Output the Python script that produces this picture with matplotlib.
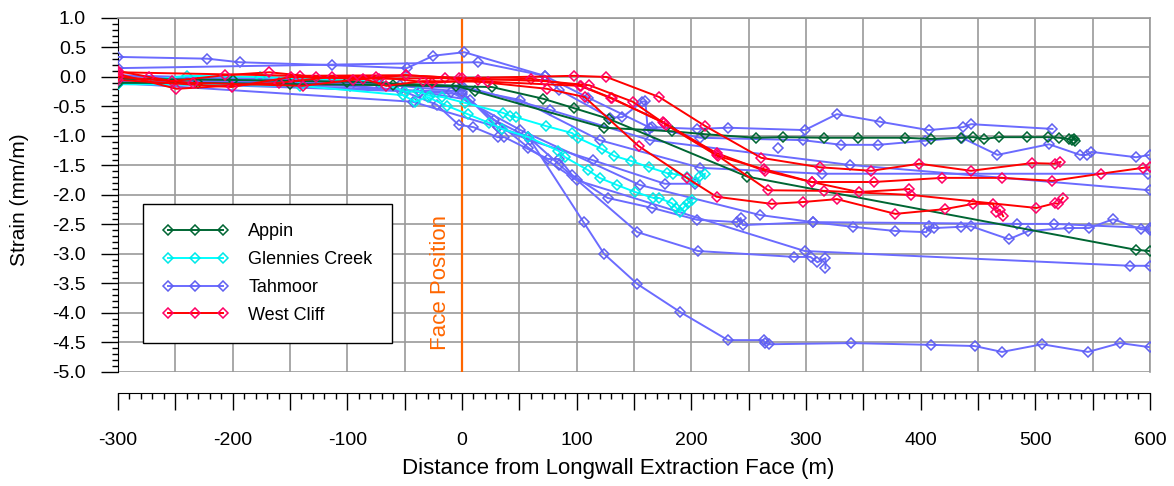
import matplotlib
matplotlib.use('Agg')
import matplotlib.pyplot as plt
from matplotlib.ticker import MultipleLocator, FuncFormatter

plt.rcParams['font.family'] = ['Liberation Sans', 'DejaVu Sans']
plt.rcParams['axes.unicode_minus'] = False

# ---- data (distance m, strain mm/m) ----
appin_x = [
    [-300, -200, -100, -5, 11, 124, 183, 212, 256, 280, 316, 345, 386, 409, 435, 446, 455, 468, 493, 511, 521, 529, 532, 534, 535],
    [-300, -230, -150, -60, 26, 71, 98, 128, 249, 588, 600],
]
appin_y = [
    [-0.03, -0.05, -0.08, -0.15, -0.24, -0.86, -0.92, -0.97, -1.03, -1.02, -1.03, -1.03, -1.03, -1.05, -1.03, -1.02, -1.05, -1.02, -1.02, -1.02, -1.03, -1.05, -1.07, -1.05, -1.08],
    [-0.10, -0.10, -0.12, -0.14, -0.17, -0.37, -0.53, -0.71, -1.69, -2.93, -2.95],
]

glennies_x = [
    [-300, -240, -176, -72, -50, -38, -28, -17, 3, 36, 42, 47, 73, 96, 101, 122, 133, 147, 163, 179, 184, 196, 203, 208, 212],
    [-300, -141, -51, -41, -30, -13, 5, 24, 35, 58, 84, 90, 110, 120, 135, 151, 167, 172, 183, 187, 190, 194, 197, 201],
]
glennies_y = [
    [-0.12, 0.02, 0.00, -0.08, -0.25, -0.24, -0.32, -0.34, -0.44, -0.61, -0.66, -0.68, -0.83, -0.95, -1.03, -1.22, -1.34, -1.42, -1.53, -1.63, -1.64, -1.69, -1.78, -1.68, -1.64],
    [-0.12, -0.15, -0.31, -0.42, -0.34, -0.49, -0.63, -0.78, -0.88, -1.02, -1.25, -1.36, -1.58, -1.71, -1.83, -1.95, -2.05, -2.05, -2.14, -2.22, -2.29, -2.20, -2.14, -2.08],
]

tahmoor_x = [
    [-300, -222, -194, -113, -48, -25, 2, 72, 110, 164, 208, 297, 331, 363, 404, 436, 467, 512, 539, 545, 549, 588, 600],
    [-300, 14, 72, 85, 129, 140, 157, 160, 162, 166, 205, 232, 299, 327, 365, 407, 437, 444, 515],
    [-300, -141, -54, 0, 51, 120, 208, 314, 598],
    [-300, 0, 77, 164, 338, 600],
    [-300, -141, -54, -22, -3, 10, 31, 37, 75, 85, 96, 127, 166, 205, 240, 243, 245, 306, 341, 378, 405, 407, 412, 435, 444, 477, 494, 529, 547, 568, 592, 600],
    [-300, -98, -37, 0, 28, 58, 106, 124, 153, 190, 232, 263, 264, 268, 339, 409, 447, 471, 506, 546, 574, 600],
    [-300, -72, 0, 31, 59, 114, 177, 203],
    [-300, -37, 7, 58, 100, 299, 583, 600],
    [-300, -43, 31, 58, 85, 153, 206, 290, 304, 310, 317, 317],
    [-300, -10, 51, 155, 260, 306, 484, 516, 600],
    [276],
]
tahmoor_y = [
    [0.34, 0.31, 0.25, 0.20, 0.15, 0.36, 0.42, 0.02, -0.35, -0.86, -1.03, -1.07, -1.15, -1.15, -1.08, -1.03, -1.32, -1.14, -1.32, -1.32, -1.27, -1.36, -1.32],
    [0.15, 0.25, 0.02, -0.22, -0.69, -0.68, -0.42, -0.41, -0.90, -0.85, -0.88, -0.86, -0.90, -0.63, -0.76, -0.90, -0.85, -0.80, -0.88],
    [0.03, -0.05, -0.14, -0.19, -0.39, -1.07, -1.54, -1.64, -1.64],
    [-0.05, -0.15, -0.56, -1.07, -1.49, -1.92],
    [-0.02, -0.08, -0.22, -0.47, -0.81, -0.85, -1.02, -1.02, -1.39, -1.39, -1.66, -2.05, -2.22, -2.42, -2.46, -2.39, -2.51, -2.46, -2.54, -2.61, -2.63, -2.53, -2.56, -2.54, -2.53, -2.75, -2.61, -2.56, -2.56, -2.41, -2.58, -2.59],
    [-0.12, -0.15, -0.25, -0.29, -0.73, -1.02, -2.46, -3.00, -3.51, -3.98, -4.46, -4.46, -4.51, -4.53, -4.51, -4.54, -4.56, -4.66, -4.53, -4.66, -4.51, -4.58],
    [0.02, -0.12, -0.25, -0.85, -1.07, -1.41, -1.81, -1.81],
    [-0.08, -0.25, -0.39, -1.20, -1.75, -2.95, -3.20, -3.20],
    [-0.10, -0.42, -0.85, -1.02, -1.49, -2.63, -2.95, -3.05, -3.05, -3.14, -3.07, -3.24],
    [-0.05, -0.25, -0.90, -1.83, -2.34, -2.46, -2.49, -2.49, -2.56],
    [-1.20],
]

westcliff_x = [
    [-300, -141, -49, 0, 98, 126, 172, 212, 261, 312, 357, 399, 444, 497, 517, 522],
    [-300, -273, -253, -207, -168, -127, -75, -26, 14, 60, 104, 131, 176, 222, 264, 305, 359, 419, 471, 515, 557, 594, 600],
    [-300, -249, -160, -113, -72, -15, 74, 107, 154, 196, 222, 270, 297, 327, 378, 421, 446, 463, 466, 469, 472],
    [-300, -201, -149, -86, -66, -34, 23, 103, 130, 175, 222, 267, 316, 392, 501, 517, 520, 524],
    [-300, -235, -139, -95, -49, -3, 72, 111, 149, 178, 223, 263, 305, 346, 390],
]
westcliff_y = [
    [0.08, 0.02, 0.03, -0.02, 0.02, 0.00, -0.34, -0.83, -1.37, -1.53, -1.59, -1.47, -1.59, -1.46, -1.47, -1.44],
    [0.10, 0.00, -0.07, 0.03, 0.08, 0.00, 0.00, -0.10, -0.05, -0.03, -0.15, -0.36, -0.78, -1.29, -1.59, -1.78, -1.78, -1.71, -1.71, -1.76, -1.64, -1.54, -1.53],
    [0.05, -0.20, -0.10, 0.00, -0.03, -0.02, -0.20, -0.34, -1.17, -1.71, -2.03, -2.15, -2.12, -2.07, -2.32, -2.24, -2.15, -2.15, -2.29, -2.25, -2.36],
    [-0.05, -0.17, 0.00, -0.03, -0.15, -0.07, -0.08, -0.15, -0.36, -0.76, -1.32, -1.92, -1.93, -2.00, -2.22, -2.14, -2.15, -2.05],
    [0.00, -0.10, -0.15, -0.05, 0.03, -0.02, -0.07, -0.14, -0.42, -0.81, -1.34, -1.56, -1.78, -1.95, -1.90],
]

x_ticks = [-300, -200, -100, 0, 100, 200, 300, 400, 500, 600]

fig = plt.figure(figsize=(11.74, 4.86), dpi=100)
ax = fig.add_axes([0.1005, 0.2346, 0.8790, 0.7284])


def draw(xs, ys, line, edge, label, z):
    for i in range(len(xs)):
        ax.plot(xs[i], ys[i], color=line, lw=1.4, marker='D', ms=4.8,
                mfc='none', mec=edge, mew=1.1, zorder=z,
                label=label if i == 0 else None)


draw(tahmoor_x, tahmoor_y, '#6B6BFF', '#6060F0', 'Tahmoor', 3)
draw(glennies_x, glennies_y, '#00FFFF', '#00E8E8', 'Glennies Creek', 4)
draw(appin_x, appin_y, '#006633', '#006633', 'Appin', 5)
draw(westcliff_x, westcliff_y, '#FF0000', '#FF0066', 'West Cliff', 6)

ax.axvline(0, ymax=0.995, color='#FF6600', lw=1.6, zorder=2)
ax.text(-19, -3.49, 'Face Position', rotation=90, color='#FF6600',
        fontsize=16, ha='center', va='center')

ax.set_xlim(-300, 600)
ax.set_ylim(-5, 1)

ax.xaxis.set_major_locator(MultipleLocator(50))
ax.xaxis.set_minor_locator(MultipleLocator(10))
ax.xaxis.set_major_formatter(FuncFormatter(
    lambda v, p: '%d' % v if int(round(v)) in x_ticks else ''))
ax.yaxis.set_major_locator(MultipleLocator(0.5))
ax.yaxis.set_minor_locator(MultipleLocator(0.1))
ax.yaxis.set_major_formatter(FuncFormatter(lambda v, p: '%.1f' % v))

ax.grid(True, which='major', color='#9a9a9a', lw=1.2, zorder=0)
ax.set_axisbelow(True)

ax.tick_params(axis='both', which='major', direction='out', length=12,
               width=1, labelsize=14)
ax.tick_params(axis='both', which='minor', direction='out', length=4.5, width=1)
ax.tick_params(axis='y', which='major', pad=11)
ax.tick_params(axis='x', which='major', pad=16)

ax.spines['bottom'].set_position(('outward', 15.1))
for s in ['top', 'right']:
    ax.spines[s].set_color('#9a9a9a')
    ax.spines[s].set_linewidth(1.2)

ax.set_xlabel('Distance from Longwall Extraction Face (m)', fontsize=16)
ax.set_ylabel('Strain (mm/m)', fontsize=15)
ax.xaxis.set_label_coords(0.485, -0.243)
ax.xaxis.label.set_va('top')
ax.yaxis.label.set_va('center')
ax.yaxis.set_label_coords(-0.095, 0.486)

handles, labels = ax.get_legend_handles_labels()
order = [labels.index(n) for n in ['Appin', 'Glennies Creek', 'Tahmoor', 'West Cliff']]
leg = ax.legend([handles[i] for i in order], [labels[i] for i in order],
                loc='lower left', bbox_to_anchor=(0.0242, 0.0819),
                borderaxespad=0, fontsize=13, numpoints=3, handlelength=3.67,
                handletextpad=1.1, borderpad=1.07, labelspacing=0.6,
                fancybox=False, framealpha=1, edgecolor='black')
leg.get_frame().set_linewidth(1.0)
leg.set_zorder(10)

fig.savefig('out.png', dpi=100)
